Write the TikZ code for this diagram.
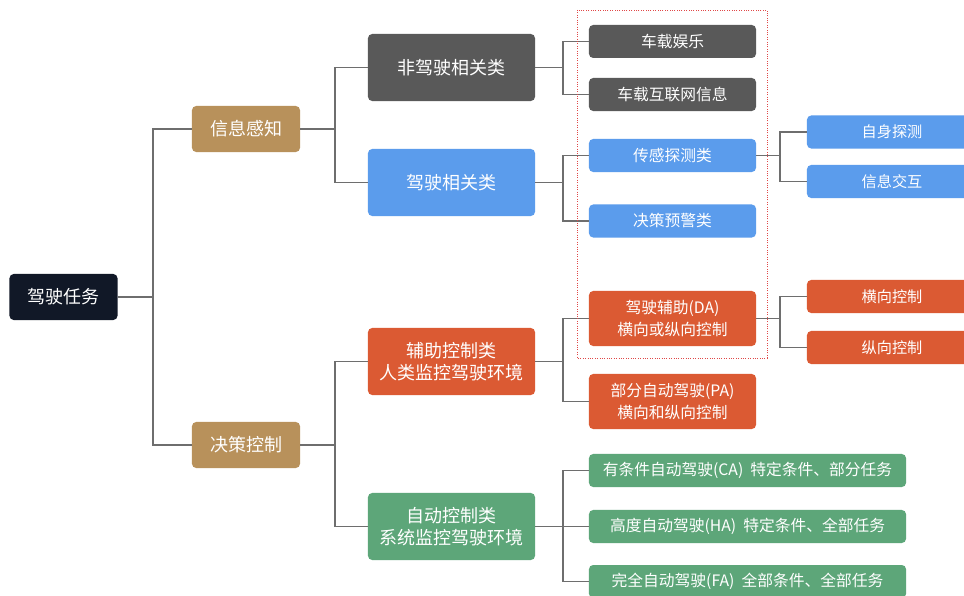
\documentclass[tikz,border=0pt]{standalone}
\usepackage{fontspec}
\setmainfont{Noto Sans CJK SC}
\usetikzlibrary{positioning}

\definecolor{navy}{HTML}{111827}
\definecolor{tan}{HTML}{B8915B}
\definecolor{darkgray}{HTML}{595959}
\definecolor{skyblue}{HTML}{5B9CEC}
\definecolor{brick}{HTML}{DB5A33}
\definecolor{sage}{HTML}{5DA679}
\definecolor{linkgray}{HTML}{6E6E6E}
\definecolor{markred}{HTML}{E04848}

\tikzset{
  box/.style={rounded corners=3pt, text=white, align=center, inner sep=0pt},
  topbox/.style={box, minimum width=2.7cm, minimum height=1.15cm, font=\fontsize{12.8}{15}\selectfont},
  midbox/.style={box, minimum width=4.175cm, minimum height=1.675cm, font=\fontsize{12.8}{15.5}\selectfont},
  leafbox/.style={box, minimum width=4.175cm, minimum height=0.825cm, font=\fontsize{11.2}{15}\selectfont},
  tallbox/.style={leafbox, minimum height=1.375cm},
  widebox/.style={leafbox, minimum width=7.925cm},
  sidebox/.style={box, minimum width=4.25cm, minimum height=0.825cm, font=\fontsize{10.8}{15}\selectfont},
  link/.style={draw=linkgray, line width=1pt}
}

\begin{document}
\begin{tikzpicture}[x=0.025cm, y=-0.025cm]
\useasboundingbox (0,0) rectangle (964,596);
\clip (0,0) rectangle (964,596);
\fill[white] (0,0) rectangle (964,596);

% junction columns
\coordinate (j1) at (153,0);
\coordinate (j2) at (335,0);
\coordinate (j3) at (563,0);
\coordinate (j4) at (780,0);

% level 1
\node[topbox, fill=navy] (task) at (63.5,297) {驾驶任务};
\node[topbox, fill=tan] (sense) at (246,129) {信息感知};
\node[topbox, fill=tan] (decide) at (246,445) {决策控制};

% level 2
\node[midbox, fill=darkgray] (nondrive) at (451.5,67.5) {非驾驶相关类};
\node[midbox, fill=skyblue] (drive) at (451.5,182.5) {驾驶相关类};
\node[midbox, fill=brick] (assist) at (451.5,361.5) {辅助控制类\\人类监控驾驶环境};
\node[midbox, fill=sage] (auto) at (451.5,526.5) {自动控制类\\系统监控驾驶环境};

% level 3
\node[leafbox, fill=darkgray] (fun) at (672.5,41.5) {车载娱乐};
\node[leafbox, fill=darkgray] (net) at (672.5,94.5) {车载互联网信息};
\node[leafbox, fill=skyblue] (probe) at (672.5,155.5) {传感探测类};
\node[leafbox, fill=skyblue] (warn) at (672.5,221) {决策预警类};
\node[tallbox, fill=brick] (da) at (672.5,318.5) {驾驶辅助(DA)\\横向或纵向控制};
\node[tallbox, fill=brick] (pa) at (672.5,401.5) {部分自动驾驶(PA)\\横向和纵向控制};
\node[widebox, fill=sage] (ca) at (747.5,470.5) {有条件自动驾驶(CA)\hspace{0.45em}特定条件、部分任务};
\node[widebox, fill=sage] (ha) at (747.5,526.5) {高度自动驾驶(HA)\hspace{0.45em}特定条件、全部任务};
\node[widebox, fill=sage] (fa) at (747.5,581.5) {完全自动驾驶(FA)\hspace{0.45em}全部条件、全部任务};

% level 4
\node[sidebox, fill=skyblue] (self) at (892,132) {自身探测};
\node[sidebox, fill=skyblue] (share) at (892,181.5) {信息交互};
\node[sidebox, fill=brick] (lat) at (892,296.5) {横向控制};
\node[sidebox, fill=brick] (lon) at (892,347.5) {纵向控制};

% connectors
\draw[link] (task.east) -- (task.east -| j1) |- (sense.west);
\draw[link] (task.east) -- (task.east -| j1) |- (decide.west);
\draw[link] (sense.east) -- (sense.east -| j2) |- (nondrive.west);
\draw[link] (sense.east) -- (sense.east -| j2) |- (drive.west);
\draw[link] (decide.east) -- (decide.east -| j2) |- (assist.west);
\draw[link] (decide.east) -- (decide.east -| j2) |- (auto.west);
\draw[link] (nondrive.east) -- (nondrive.east -| j3) |- (fun.west);
\draw[link] (nondrive.east) -- (nondrive.east -| j3) |- (net.west);
\draw[link] (drive.east) -- (drive.east -| j3) |- (probe.west);
\draw[link] (drive.east) -- (drive.east -| j3) |- (warn.west);
\draw[link] (assist.east) -- (assist.east -| j3) |- (da.west);
\draw[link] (assist.east) -- (assist.east -| j3) |- (pa.west);
\draw[link] (auto.east) -- (auto.east -| j3) |- (ca.west);
\draw[link] (auto.east) -- (auto.east -| j3) |- (ha.west);
\draw[link] (auto.east) -- (auto.east -| j3) |- (fa.west);
\draw[link] (probe.east) -- (probe.east -| j4) |- (self.west);
\draw[link] (probe.east) -- (probe.east -| j4) |- (share.west);
\draw[link] (da.east) -- (da.east -| j4) |- (lat.west);
\draw[link] (da.east) -- (da.east -| j4) |- (lon.west);

% highlighted column
\draw[markred, densely dotted, line width=0.7pt] (577,10) rectangle (767,358);
\end{tikzpicture}
\end{document}
